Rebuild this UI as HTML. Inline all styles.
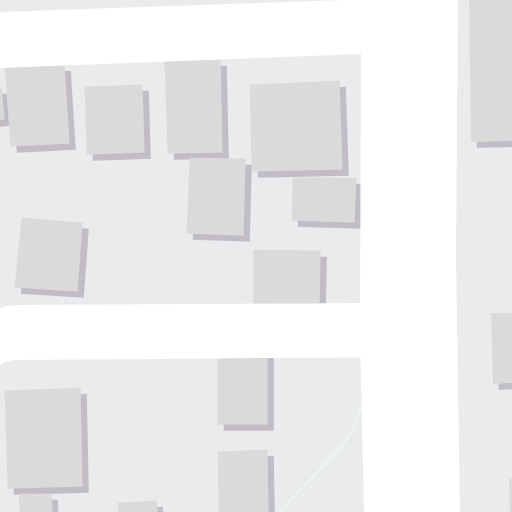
<!DOCTYPE html>
<html>
<head>
<meta charset="utf-8">
<title>Map tile</title>
<style>
html,body{margin:0;padding:0;background:#fff;width:512px;height:512px;overflow:hidden}
svg{display:block}
.land{fill:#e9ebec}
.roof{fill:#dadada}
.shadow{fill:#c2bcc6}
</style>
</head>
<body>
<svg width="512" height="512" viewBox="0 0 512 512">
<defs>
<clipPath id="b1"><path d="M0 68L361 54L360 303L20 305Q8 305 0 308Z"/></clipPath>
<clipPath id="b2"><path d="M0 366Q6 360 16 360L360.500 357.500L364 512L0 512Z"/></clipPath>
</defs>
<rect x="0" y="0" width="512" height="512" fill="#ffffff"/>
<polygon class="land" points="0,0 345,0 0,12"/>
<path class="land" d="M0 68L361 54L360 303L20 305Q8 305 0 308Z"/>
<path class="land" d="M0 366Q6 360 16 360L360.500 357.500L364 512L0 512Z"/>
<polygon class="land" points="458,0 512,0 512,512 460,512 456,256"/>
<path d="M279 512L342 446Q353 433 361 408" fill="none" stroke="#eff6f6" stroke-width="1.5"/>

<g clip-path="url(#b1)">
<g transform="translate(5.800,5.800)">
<polygon class="shadow" points="-6,88 2,88 5,120 -6,121"/>
<polygon class="shadow" points="5,68 65,65 70,144 11,147"/>
<polygon class="shadow" points="85,87 143,85 145,153 87,155"/>
<polygon class="shadow" points="165,62 221,60 223,153 168,154"/>
<polygon class="shadow" points="190,158 246,159 244,236 187,234"/>
<polygon class="shadow" points="250,85 340,81 343,170 252,172"/>
<polygon class="shadow" points="293,178 357,178 355,223 292,221"/>
<polygon class="shadow" points="22,218 83,223 78,292 15,288"/>
<polygon class="shadow" points="254,250 321,251 320,310 254,310"/>
</g>
<g transform="translate(-.4,-.4)">
<polygon class="roof" points="-6,88 2,88 5,120 -6,121"/>
<polygon class="roof" points="5,68 65,65 70,144 11,147"/>
<polygon class="roof" points="85,87 143,85 145,153 87,155"/>
<polygon class="roof" points="165,62 221,60 223,153 168,154"/>
<polygon class="roof" points="190,158 246,159 244,236 187,234"/>
<polygon class="roof" points="250,85 340,81 343,170 252,172"/>
<polygon class="roof" points="293,178 357,178 355,223 292,221"/>
<polygon class="roof" points="22,218 83,223 78,292 15,288"/>
<polygon class="roof" points="254,250 321,251 320,310 254,310"/>
</g>
</g>

<g clip-path="url(#b2)">
<g transform="translate(5.800,5.800)">
<polygon class="shadow" points="19,494 52,494 53,512 20,512"/>
<polygon class="shadow" points="118,503 157,501 158,512 119,512"/>
<polygon class="shadow" points="5,391 81,388 83,487 8,489"/>
<polygon class="shadow" points="218,350 268,350 268,425 218,425"/>
<polygon class="shadow" points="218,452 268,450 269,512 219,512"/>
</g>
<g transform="translate(-.4,-.4)">
<polygon class="roof" points="19,494 52,494 53,513 20,513"/>
<polygon class="roof" points="118,503 157,501 158,513 119,513"/>
<polygon class="roof" points="5,391 81,388 83,487 8,489"/>
<polygon class="roof" points="218,350 268,350 268,425 218,425"/>
<polygon class="roof" points="218,452 268,450 269,513 219,513"/>
</g>
</g>

<g>
<g transform="translate(5.800,5.800)">
<polygon class="shadow" points="469,-6 520,-6 520,141 471,142"/>
<polygon class="shadow" points="491,313 520,313 520,383 493,384"/>
</g>
<polygon class="roof" points="469,0 512,0 512,141 471,142"/>
<polygon class="roof" points="491,313 512,313 512,383 493,384"/>
<polygon class="roof" points="509,479 513,479 513,513 510,513"/>
</g>
</svg>
</body>
</html>
